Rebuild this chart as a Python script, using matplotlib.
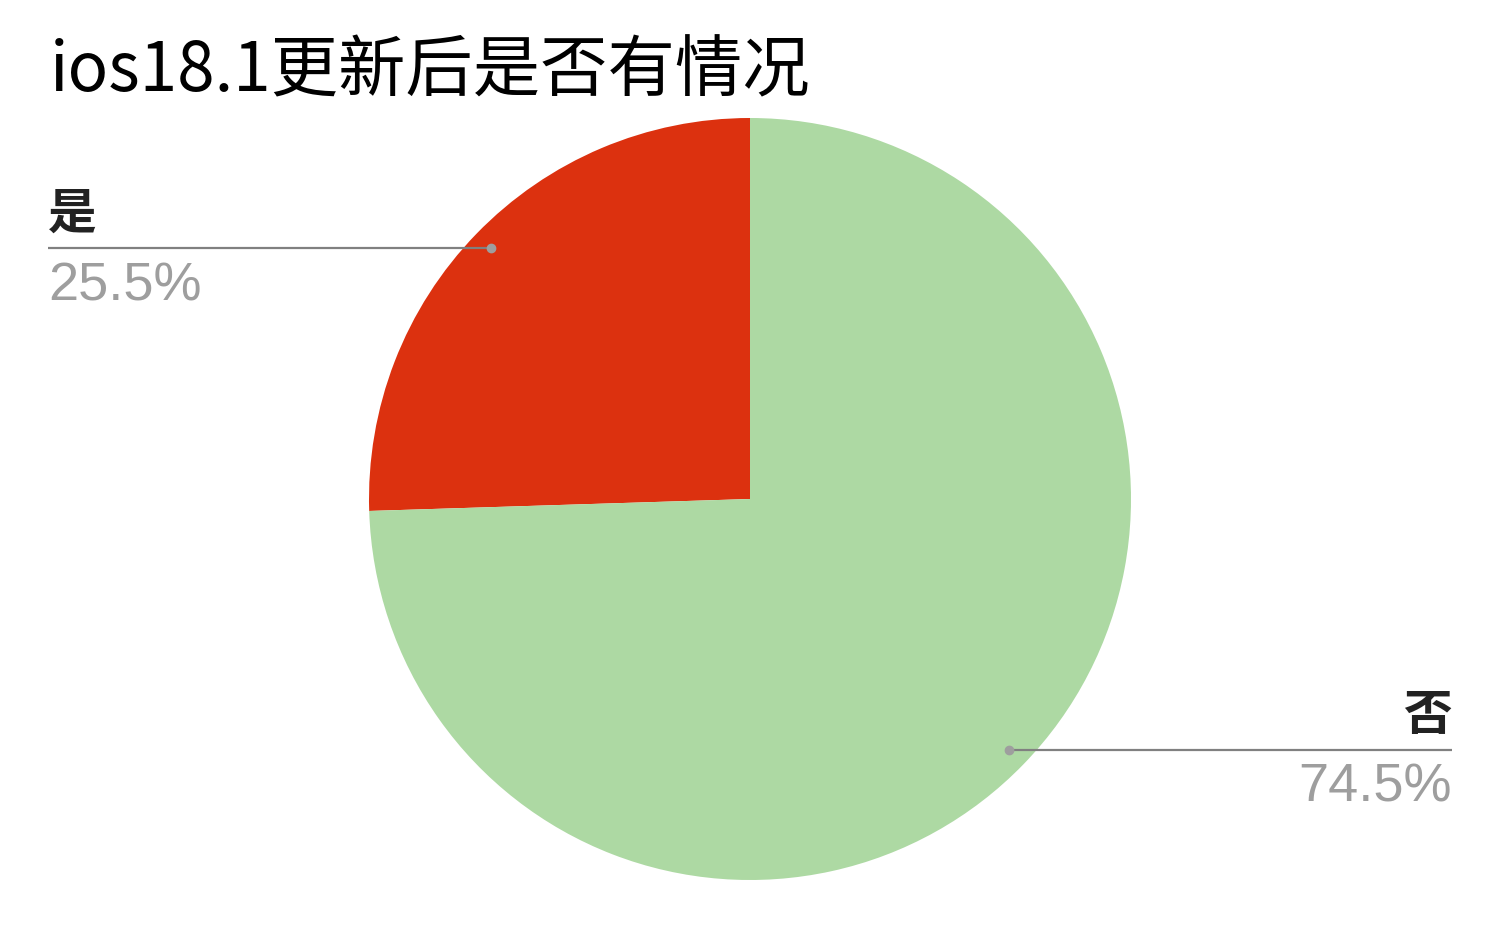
import matplotlib
matplotlib.use("Agg")
import matplotlib.pyplot as plt
import numpy as np

plt.rcParams['font.family'] = ['Noto Sans CJK SC', 'DejaVu Sans']

title = "ios18.1更新后是否有情况"
categories = ["是", "否"]
values = [25.5, 74.5]
pct_labels = ["25.5%", "74.5%"]
colors = ["#DC310F", "#ADD9A3"]

W, H = 1500, 927
fig = plt.figure(figsize=(W / 100, H / 100), dpi=100)
ax = fig.add_axes([0, 0, 1, 1])
ax.set_xlim(0, W)
ax.set_ylim(0, H)
ax.set_aspect('equal')
ax.axis('off')

cx, cy, r = 750, H - 499, 381
wedges, _ = ax.pie(values, colors=colors, startangle=90, counterclock=True,
                   center=(cx, cy), radius=r, frame=True,
                   wedgeprops=dict(linewidth=0))
ax.set_xlim(0, W)
ax.set_ylim(0, H)
ax.axis('off')

total = sum(values)
start = 90.0
line_ends = [48, 1452]
for i, (cat, v, pl) in enumerate(zip(categories, values, pct_labels)):
    span = v / total * 360.0
    mid = np.deg2rad(start + span / 2)
    start += span
    dx, dy = cx + 0.945 * r * np.cos(mid), cy + 0.945 * r * np.sin(mid)
    xe = line_ends[i]
    ax.plot([dx, xe], [dy, dy], color="#808080", lw=1.6, solid_capstyle='butt', zorder=3)
    ax.plot([dx], [dy], 'o', color="#9E9E9E", ms=6, zorder=4)
    ha = 'left' if xe < cx else 'right'
    ax.text(xe, dy + 10, cat, ha=ha, va='bottom', fontsize=35, fontweight='bold',
            color="#222222")
    ax.text(xe, dy - 13, pl, ha=ha, va='top', fontsize=39, color="#9E9E9E",
            family=['Liberation Sans', 'DejaVu Sans'])

fig.text(50 / W, 1 - 72 / H, title, ha='left', va='center', fontsize=48.5, color="black")

fig.savefig("out.png", dpi=100, facecolor='white')
